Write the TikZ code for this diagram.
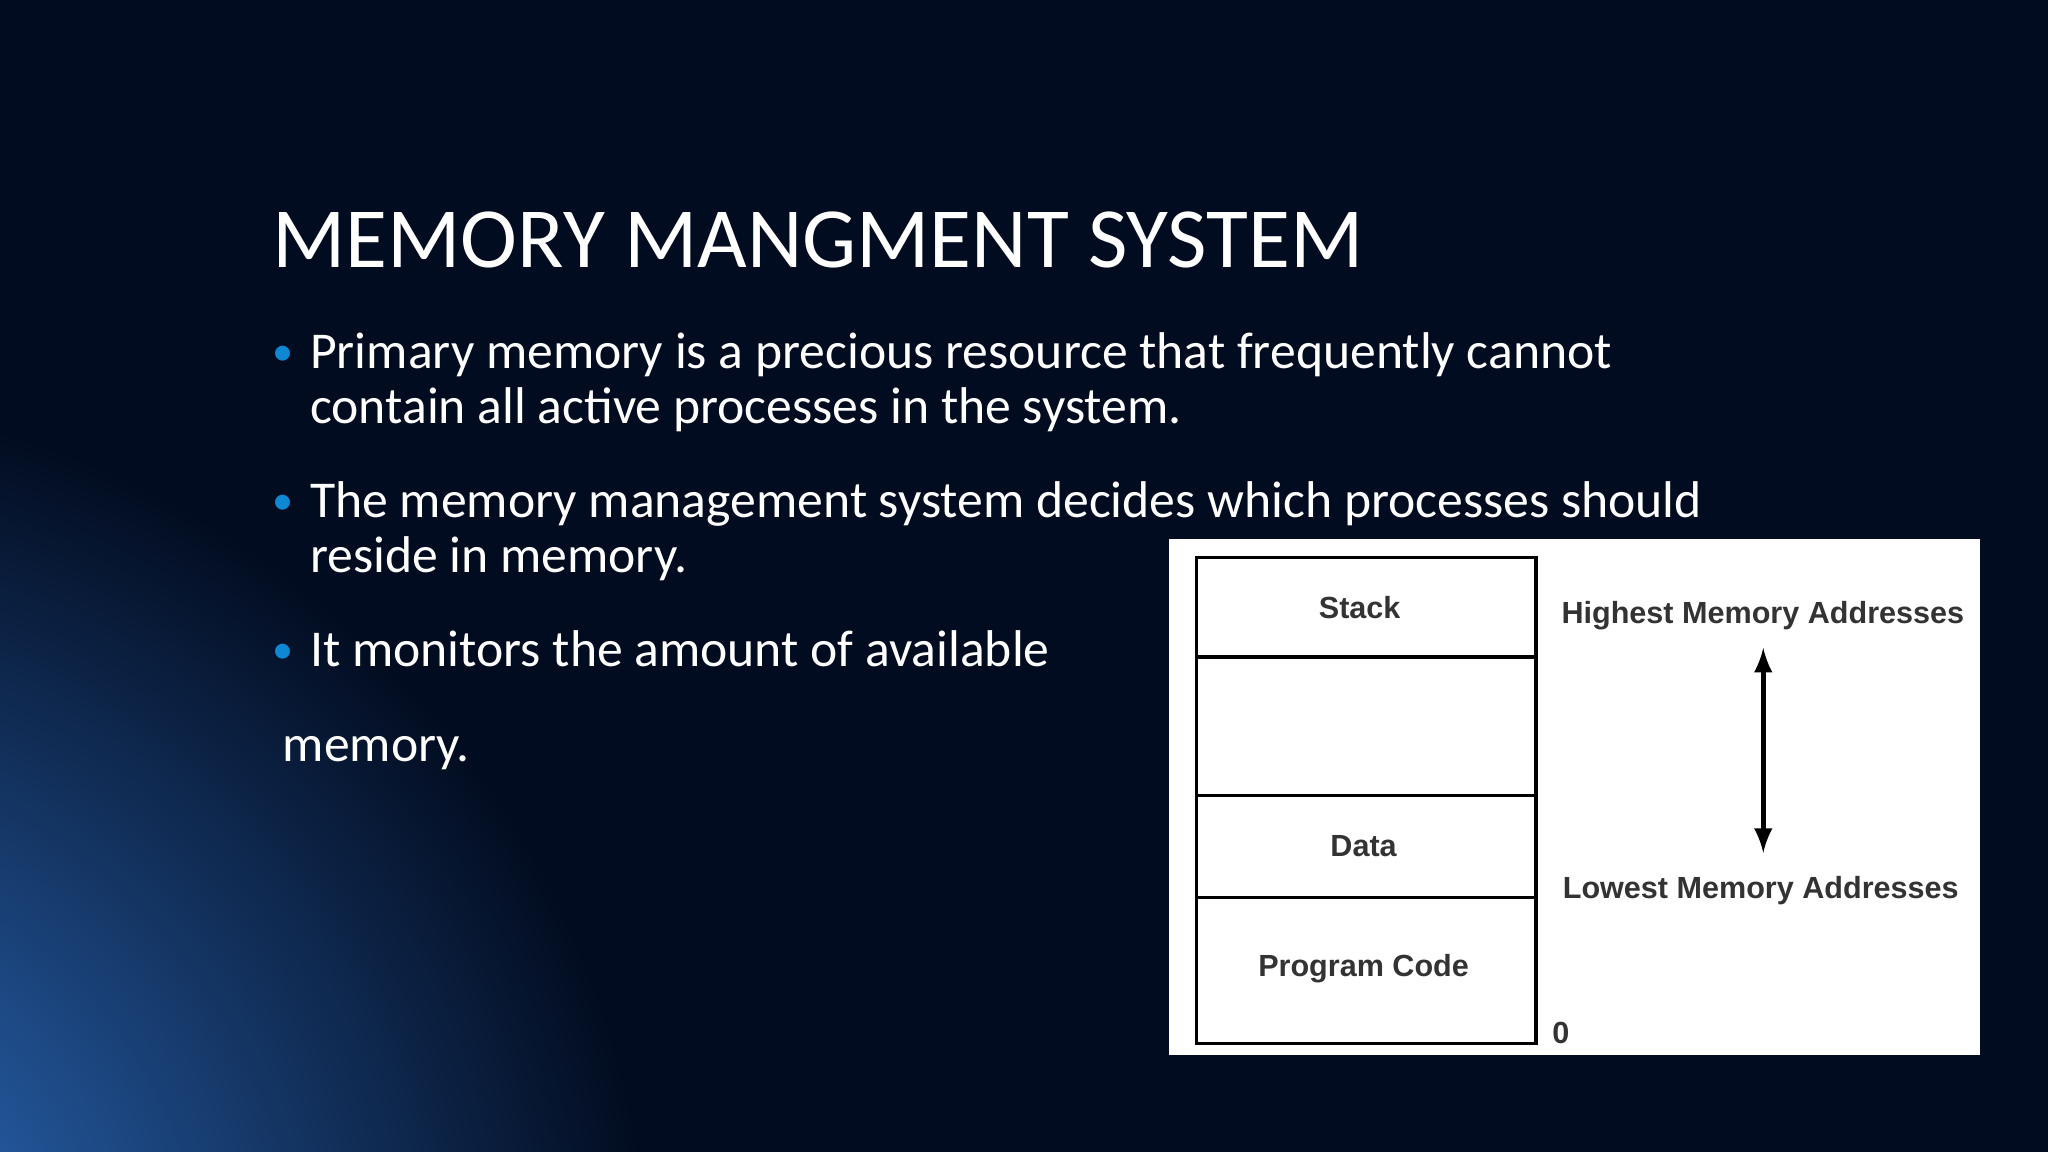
\documentclass[tikz,border=0pt]{standalone}
\usepackage{fontspec}
\setmainfont{Carlito}
\newfontfamily\arialf{Liberation Sans}
\begin{document}
\begin{tikzpicture}[x=0.013061cm,y=-0.013061cm,
  body/.style={anchor=base west,text=white,font=\fontsize{14.7}{18}\selectfont,inner sep=0},
  bullet/.style={anchor=base west,text=cyan!70!blue,font=\fontsize{12}{14}\selectfont,inner sep=0},
  lab/.style={font=\arialf\bfseries\fontsize{8.7}{10}\selectfont,text=black!80,inner sep=0},
  cell/.style={draw=black,line width=0.9pt}]
\useasboundingbox (0,0) rectangle (1568,882);
\fill[fill={rgb,255:red,2;green,12;blue,32}] (0,0) rectangle (1568,882);
\begin{scope}
\clip (0,0) rectangle (1568,882);
\shade[inner color={rgb,255:red,50;green,120;blue,210},outer color={rgb,255:red,2;green,12;blue,32}]
  (-200,1000) circle (700);
\end{scope}
\node[anchor=base west,text=white,font=\fontsize{24.4}{28}\selectfont,inner sep=0] (title) at (208,205) {MEMORY MANGMENT SYSTEM};
\node[bullet] (b1) at (208,280) {•};
\node[body] (t1) at (237,282) {Primary memory is a precious resource that frequently cannot};
\node[body] (t1b) at (237,324) {contain all active processes in the system.};
\node[bullet] (b2) at (208,394) {•};
\node[body] (t2) at (237,396) {The memory management system decides which processes should};
\node[body] (t2b) at (237,438) {reside in memory.};
\node[bullet] (b3) at (208,508) {•};
\node[body] (t3) at (237,510) {It monitors the amount of available};
\node[body] (t3b) at (216,583) {memory.};
\fill[white] (895,413) rectangle (1516,808);
\draw[cell] (916,427) rectangle (1176,503);
\draw[cell] (916,503) rectangle (1176,609);
\draw[cell] (916,609) rectangle (1176,687);
\draw[cell] (916,687) rectangle (1176,799);
\node[lab] (stack) at (1041,465) {Stack};
\node[lab] (data) at (1044,648) {Data};
\node[lab] (code) at (1044,742) {Program Code};
\node[lab,anchor=west] (hi) at (1195,471) {Highest Memory Addresses};
\node[lab,anchor=west] (lo) at (1196,682) {Lowest Memory Addresses};
\node[lab,anchor=west] (zero) at (1188,791) {0};
\coordinate (at) at (1350,496);
\coordinate (ab) at (1350,653);
\draw[line width=1.4pt,black,<->,>=latex] (at) -- (ab);
\end{tikzpicture}
\end{document}
